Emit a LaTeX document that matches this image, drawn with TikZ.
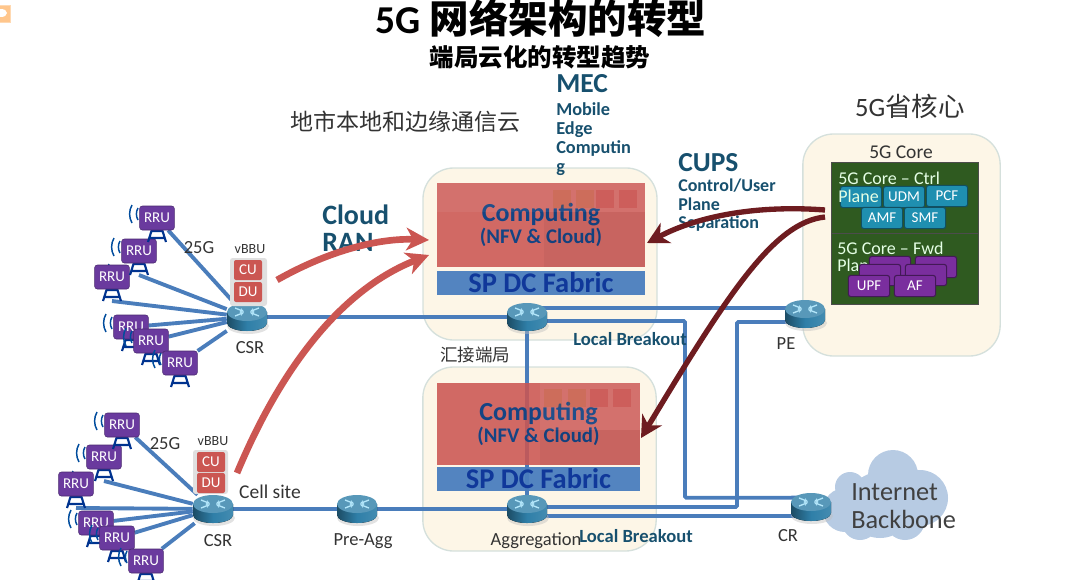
\documentclass[tikz,border=0pt]{standalone}
\usepackage{fontspec}
\setmainfont{Carlito}
\newfontfamily\cjk{Noto Sans CJK SC}
\usetikzlibrary{arrows.meta,backgrounds}
\newcommand{\pxfont}[1]{\fontsize{\dimexpr #1pt*3/4\relax}{\dimexpr #1pt*17/20\relax}\selectfont}
\definecolor{linkblue}{HTML}{4A7DBB}
\definecolor{creampanel}{HTML}{FDF6E7}
\definecolor{paneledge}{HTML}{D5E0DC}
\definecolor{blockred}{HTML}{CB5652}
\definecolor{fabricblue}{HTML}{4A7EBE}
\definecolor{headblue}{HTML}{17506E}
\definecolor{corered}{HTML}{6E1C20}
\definecolor{coregreen}{HTML}{2F5A20}
\definecolor{rrupurple}{HTML}{6A3A9E}
\definecolor{nfteal}{HTML}{1F8FB0}
\definecolor{upfpurple}{HTML}{7A2E9E}
\definecolor{routerblue}{HTML}{2F7FA8}
\definecolor{cloudblue}{HTML}{B7CBE3}
\tikzset{
    panel/.style={draw=paneledge,line width=1pt,fill=creampanel,rounded corners=23pt},
    link/.style={draw=linkblue,line width=2.9pt},
    redblock/.style={fill=blockred,fill opacity=.88,text opacity=1,text=headblue!85!blue,minimum width=156pt,minimum height=63pt,inner sep=0pt,align=center,font=\bfseries\pxfont{26}},
    fabric/.style={fill=fabricblue,fill opacity=.95,text opacity=1,text=headblue!70!blue,minimum width=156pt,minimum height=18pt,inner sep=0pt,font=\bfseries\pxfont{28.5}},
    rrubox/.style={fill=rrupurple,draw=rrupurple!70!black,rounded corners=2pt,text=white,minimum width=26pt,minimum height=18pt,inner sep=0pt,font=\pxfont{15}},
    routerbox/.style={minimum width=30pt,minimum height=21pt,inner sep=0pt},
    vbox/.style={fill=blockred,rounded corners=1.5pt,text=white,minimum width=21pt,minimum height=15pt,inner sep=0pt,font=\pxfont{15}},
    nfbox/.style={fill=#1,draw=#1!55!black,rounded corners=2pt,line width=.8pt,text=white,minimum width=31pt,minimum height=16pt,inner sep=0pt,font=\pxfont{15}},
    plain/.style={inner sep=0pt,text=black!80,font=\pxfont{18.5}},
    coretxt/.style={inner sep=0pt,text=white!90!green,anchor=west,font=\pxfont{18}},
    bluehead/.style={inner sep=0pt,text=headblue,align=left,font=\bfseries\pxfont{#1}},
    redarrow/.style={draw=blockred,line width=5pt,-{Stealth[length=17pt,width=17pt,inset=5pt]}},
    darkarrow/.style={draw=corered,line width=4pt,-{Stealth[length=16pt,width=17pt,inset=5pt]}},
    routericon/.pic={
        \fill[black!25,opacity=.45] (1,9) ellipse[x radius=21,y radius=8];
        \fill[left color=routerblue!60!black,right color=routerblue!90!white,middle color=routerblue] (-20,-5) -- (-20,6) arc[start angle=180,end angle=0,x radius=20,y radius=8] -- (20,-5) -- cycle;
        \fill[routerblue!80!white] (0,-5) ellipse[x radius=20,y radius=9];
        \draw[white!70!cyan,line width=1pt,-{Stealth[length=3pt,width=3pt]}] (-12,-9) -- (-3,-5.5);
        \draw[white!70!cyan,line width=1pt,-{Stealth[length=3pt,width=3pt]}] (-12,-1) -- (-3,-4.5);
        \draw[white!70!cyan,line width=1pt,-{Stealth[length=3pt,width=3pt]}] (12,-9) -- (3,-5.5);
        \draw[white!70!cyan,line width=1pt,-{Stealth[length=3pt,width=3pt]}] (12,-1) -- (3,-4.5);
    },
    rrutower/.pic={
        \draw[blue!45!black!80!cyan,line width=1.6pt] (-9,24) -- (-3,5) -- (3,5) -- (9,24) (-7,20) -- (7,20) (-5,13) -- (5,13);
        \draw[blue!45!black!70!cyan,line width=1.1pt] (#1-19,-10) arc[start angle=210,end angle=150,radius=12];
        \draw[blue!45!black!70!cyan,line width=1.1pt] (#1-25,-13) arc[start angle=210,end angle=150,radius=18];
    }
}
\begin{document}
\begin{tikzpicture}[x=0.75pt,y=-0.75pt]
    \useasboundingbox (0,0) rectangle (1080,579);
    \fill[orange!45!white,draw=orange!30!white] (-3,5) rectangle (10,22);
    \fill[white] (1,13) ellipse[x radius=6,y radius=4];

    % headings
    \node[inner sep=0pt,font=\bfseries\pxfont{39.5}] (title) at (541,18) {5G {\cjk 网络架构的转型}};
    \node[inner sep=0pt,font=\bfseries\pxfont{24.5}] (subtitle) at (540,57) {\cjk 端局云化的转型趋势};
    \node[plain,font=\cjk\pxfont{23}] (citycloud) at (405,122) {地市本地和边缘通信云};
    \node[plain,font=\pxfont{26.5}] (provcore) at (910,106) {5G{\cjk 省核心}};
    \node[plain,font=\cjk\pxfont{17.5}] (hub) at (475,355) {汇接端局};

    % edge cloud blocks
    \node[redblock] (comp1) at (541,225) {Computing\\[-5pt]{\pxfont{20.8}(NFV \& Cloud)}};
    \node[fabric] (fab1) at (541,283) {SP DC Fabric};
    \node[redblock,minimum height=61.5pt,minimum width=152pt] (comp2) at (538.5,424) {Computing\\[-5pt]{\pxfont{20.8}(NFV \& Cloud)}};
    \node[fabric,minimum width=152pt] (fab2) at (538.5,479) {SP DC Fabric};
    \fill[white,opacity=.06] (437,183) rectangle (645,212);
    \fill[black,opacity=.04] (544,212) rectangle (645,267);
    \fill[white,opacity=.06] (540,383) rectangle (640,430);
    \fill[black,opacity=.04] (540,430) rectangle (640,465);
    \foreach \xx/\yy/\tint in {562/199/orange,585/199/orange,605/199/red,628/199/red,553/398/orange,577/398/orange,599/398/red,622/398/red}
        \fill[\tint!70!black,opacity=.16] (\xx-9,\yy-9) rectangle (\xx+9,\yy+9);

    % core block
    \node[fill=coregreen,draw=black!70,line width=.5pt,minimum width=110pt,minimum height=53pt,inner sep=0pt] (ctrl) at (904.5,198) {};
    \node[fill=coregreen,draw=black!70,line width=.5pt,minimum width=110pt,minimum height=53pt,inner sep=0pt] (fwd) at (904.5,268.5) {};
    \node[coretxt] (ctrltxt) at (838,178) {5G Core -- Ctrl};
    \node[coretxt] (fwdtxt) at (837,248) {5G Core -- Fwd};
    \node[coretxt] (fwdtxt2) at (837,265) {Plane};
    \foreach \name/\xx/\yy/\txt in {nrf/861/197/,udm/904/197/UDM,pcf/947/196/PCF,amf/882/218/AMF,smf/925/218/SMF}
        \node[nfbox=nfteal] (\name) at (\xx,\yy) {\txt};
    \node[coretxt] (ctrltxt2) at (838,196) {Plane};
    \foreach \name/\xx/\yy/\txt in {upfa/890/267/,afa/936/267/,upfb/880/275/,afb/926/275/,upf/869/286/UPF,af/915/286/AF}
        \node[nfbox=upfpurple] (\name) at (\xx,\yy) {\txt};

    % routers
    \foreach \name/\xx/\yy in {csra/247/317,mid/527/317,pe/805/314,csrb/213/509,preagg/357/509,agg/527/509,cr/811/507} {
        \node[routerbox] (\name) at (\xx,\yy) {};
        \pic at (\name) {routericon};
    }

    % radio units, nearer ones last
    \foreach \name/\xx/\yy/\ax in {rru3/112/277/22,rru2/139/251/0,rru1/157/218/0,rru4/131/327/0,rru5/151/341/0,rru6/180/363/0,
            rrc/76/484/22,rrb/104/457/0,rra/122/425/0,rrd/96/523/0,rre/117/538/0,rrf/146/561/0} {
        \pic at (\xx,\yy) {rrutower=\ax};
        \node[rrubox] (\name) at (\xx,\yy) {RRU};
        \coordinate (\name-foot) at (\xx,\yy+24);
    }

    % vBBU stacks
    \fill[black!12,rounded corners=2pt] (230,258) rectangle (267,306);
    \fill[black!12,rounded corners=2pt] (193,450) rectangle (228,494);
    \node[vbox] (cua) at (248,270) {CU};
    \node[vbox] (dua) at (248,292) {DU};
    \node[vbox] (cub) at (211,462) {CU};
    \node[vbox] (dub) at (211,483) {DU};

    % labels
    \node[plain,font=\pxfont{14}] (vbbua) at (250,249) {vBBU};
    \node[plain,font=\pxfont{14}] (vbbub) at (213,441) {vBBU};
    \node[plain] (speeda) at (199,248) {25G};
    \node[plain] (speedb) at (165,444) {25G};
    \node[plain] (csrlabela) at (250,348) {CSR};
    \node[plain] (csrlabelb) at (218,541) {CSR};
    \node[plain] (preagglabel) at (363,541) {Pre-Agg};
    \node[plain] (agglabel) at (536,541) {Aggregation};
    \node[plain,font=\pxfont{19.5}] (celllabel) at (270,492) {Cell site};
    \node[plain] (pelabel) at (786,344) {PE};
    \node[plain] (crlabel) at (788,536) {CR};
    \node[bluehead=18.6] (breaka) at (630,339) {Local Breakout};
    \node[bluehead=18.6] (breakb) at (636,536) {Local Breakout};
    \node[bluehead=28,anchor=north west] (ran) at (322,205) {Cloud\\[-3.5pt]RAN};
    \node[bluehead=27.5,anchor=west] (mec) at (556,84) {MEC};
    \node[bluehead=18.3,anchor=north west] (mecfull) at (556,102) {Mobile\\[-1.2pt]Edge\\[-1.2pt]Computin\\[-1.2pt]g};
    \node[bluehead=27.5,anchor=west] (cups) at (678,163) {CUPS};
    \node[bluehead=18,anchor=north west] (cupsfull) at (678,179) {Control/User\\[-1.4pt]Plane\\[-1.4pt]Separation};
    \node[plain,font=\pxfont{19.5}] (corelabel) at (901,152) {5G Core};
    \node[plain,text=black!75,anchor=west,align=left,font=\pxfont{26.3}] (backbone) at (851,506) {Internet\\[-1pt]Backbone};

    % panels, cloud and links go underneath
    \begin{scope}[on background layer]
        \node[panel,minimum width=175.5pt,minimum height=129pt] (panela) at (540,254) {};
        \node[panel,minimum width=175pt,minimum height=138pt] (panelb) at (539.5,459) {};
        \node[panel,minimum width=148pt,minimum height=166.5pt] (panelc) at (901.5,245) {};
        \fill[cloudblue] (880,505) circle (33) (845,510) circle (22) (893,475) circle (25) (920,498) circle (28) (860,522) circle (18) (905,520) circle (20) (850,487) circle (15);
        \draw[link] (rru1) -- (csra);
        \draw[link] (rru2-foot) -- (csra);
        \draw[link] (rru3-foot) -- (csra);
        \draw[link] (rru4) -- (csra);
        \draw[link] (rru5) -- (csra);
        \draw[link] (rru6) -- (csra);
        \draw[link] (rra) -- (csrb);
        \draw[link] (rrb-foot) -- (csrb);
        \draw[link] (rrc-foot) -- (csrb);
        \draw[link] (rrd) -- (csrb);
        \draw[link] (rre) -- (csrb);
        \draw[link] (rrf) -- (csrb);
        \draw[link] (csra) -- (mid);
        \draw[link] (mid) -- (agg);
        \draw[link] (csrb) -- (preagg);
        \draw[link] (preagg) -- (agg);
        \draw[link] ([yshift=6.75pt]mid.center) -- ([yshift=4.5pt]pe.center);
        \draw[link,rounded corners=1pt] ([yshift=-3pt]mid.center) -| (685,497.7) -- ([yshift=7pt]cr.center);
        \draw[link,rounded corners=1pt] ([yshift=-6pt]pe.center) -| (737,507) -- ([yshift=1.5pt]agg.center);
        \draw[link] ([yshift=-5.25pt]agg.center) -- ([yshift=-6.75pt]cr.center);
    \end{scope}

    % data and control flows
    \coordinate (ranstarta) at (277,280);
    \coordinate (ranstartb) at (237,473);
    \coordinate (ranenda) at (429,240);
    \coordinate (ranendb) at (429,255);
    \coordinate (cupsstarta) at (825,210);
    \coordinate (cupsstartb) at (825,217);
    \coordinate (cupsenda) at (647,243);
    \coordinate (cupsendb) at (641,438);
    \draw[redarrow] (ranstarta) .. controls (330,250) and (380,238) .. (ranenda);
    \draw[redarrow] (ranstartb) .. controls (280,370) and (340,290) .. (ranendb);
    \draw[darkarrow] (cupsstarta) .. controls (760,205) and (700,215) .. (cupsenda);
    \draw[darkarrow] (cupsstartb) .. controls (775,222) and (730,290) .. (cupsendb);
\end{tikzpicture}
\end{document}
